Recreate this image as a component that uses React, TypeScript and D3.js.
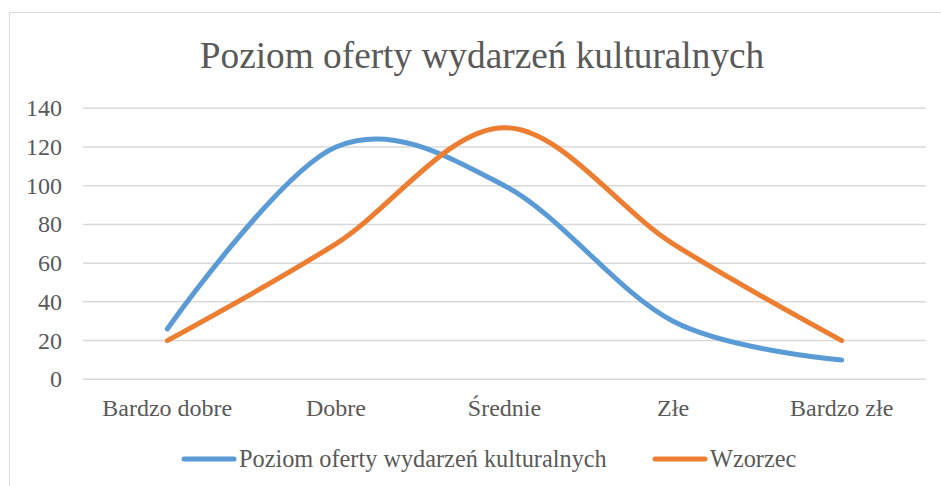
import React from "react";
import * as d3 from "d3";

const categories = ["Bardzo dobre", "Dobre", "Średnie", "Złe", "Bardzo złe"];
const poziom = [26, 120, 100, 30, 10];
const wzorzec = [20, 70, 130, 70, 20];
const yTicks = [0, 20, 40, 60, 80, 100, 120, 140];
const title = "Poziom oferty wydarzeń kulturalnych";
const seriesNames = ["Poziom oferty wydarzeń kulturalnych", "Wzorzec"];
const colors = ["#5B9BD5", "#ED7D31"];

export default function App() {
  const W = 941, H = 486;
  const left = 83, right = 926, top = 108.3, bottom = 379.3;
  const x = d3.scalePoint<string>().domain(categories).range([left, right]).padding(0.5);
  const y = d3.scaleLinear().domain([0, 140]).range([bottom, top]);
  const line = d3
    .line<number>()
    .x((_, i) => x(categories[i]) as number)
    .y((d) => y(d))
    .curve(d3.curveCatmullRom.alpha(0));
  const font = '"Liberation Serif"';
  const textColor = "#595959";
  const ts = { fontFamily: font };
  return (
    <svg width={W} height={H} style={{ position: "absolute", left: 0, top: 0 }}>
      <rect x={0} y={0} width={W} height={H} fill="#fff" />
      <rect x={9.5} y={12.5} width={W + 20} height={H + 20} fill="none" stroke="#D9D9D9" strokeWidth={1} />
      <text x={482} y={68} textAnchor="middle" fontSize={37.3} fill={textColor} style={ts}>
        {title}
      </text>
      {yTicks.map((t) => (
        <g key={t}>
          <line x1={left} x2={right} y1={y(t)} y2={y(t)} stroke="#D9D9D9" strokeWidth={1.5} />
          <text x={62} y={y(t) + 8} textAnchor="end" fontSize={24} fill={textColor} style={ts}>
            {t}
          </text>
        </g>
      ))}
      {categories.map((c) => (
        <text key={c} x={x(c)} y={416} textAnchor="middle" fontSize={24} fill={textColor} style={ts}>
          {c}
        </text>
      ))}
      {[poziom, wzorzec].map((s, i) => (
        <path key={i} d={line(s) || ""} fill="none" stroke={colors[i]} strokeWidth={5} strokeLinecap="round" strokeLinejoin="round" />
      ))}
      <line x1={184} x2={234} y1={459} y2={459} stroke={colors[0]} strokeWidth={5} strokeLinecap="round" />
      <text x={239} y={467} fontSize={24.3} fill={textColor} style={ts}>
        {seriesNames[0]}
      </text>
      <line x1={655} x2={705} y1={459} y2={459} stroke={colors[1]} strokeWidth={5} strokeLinecap="round" />
      <text x={710} y={467} fontSize={24.3} fill={textColor} style={ts}>
        {seriesNames[1]}
      </text>
    </svg>
  );
}
